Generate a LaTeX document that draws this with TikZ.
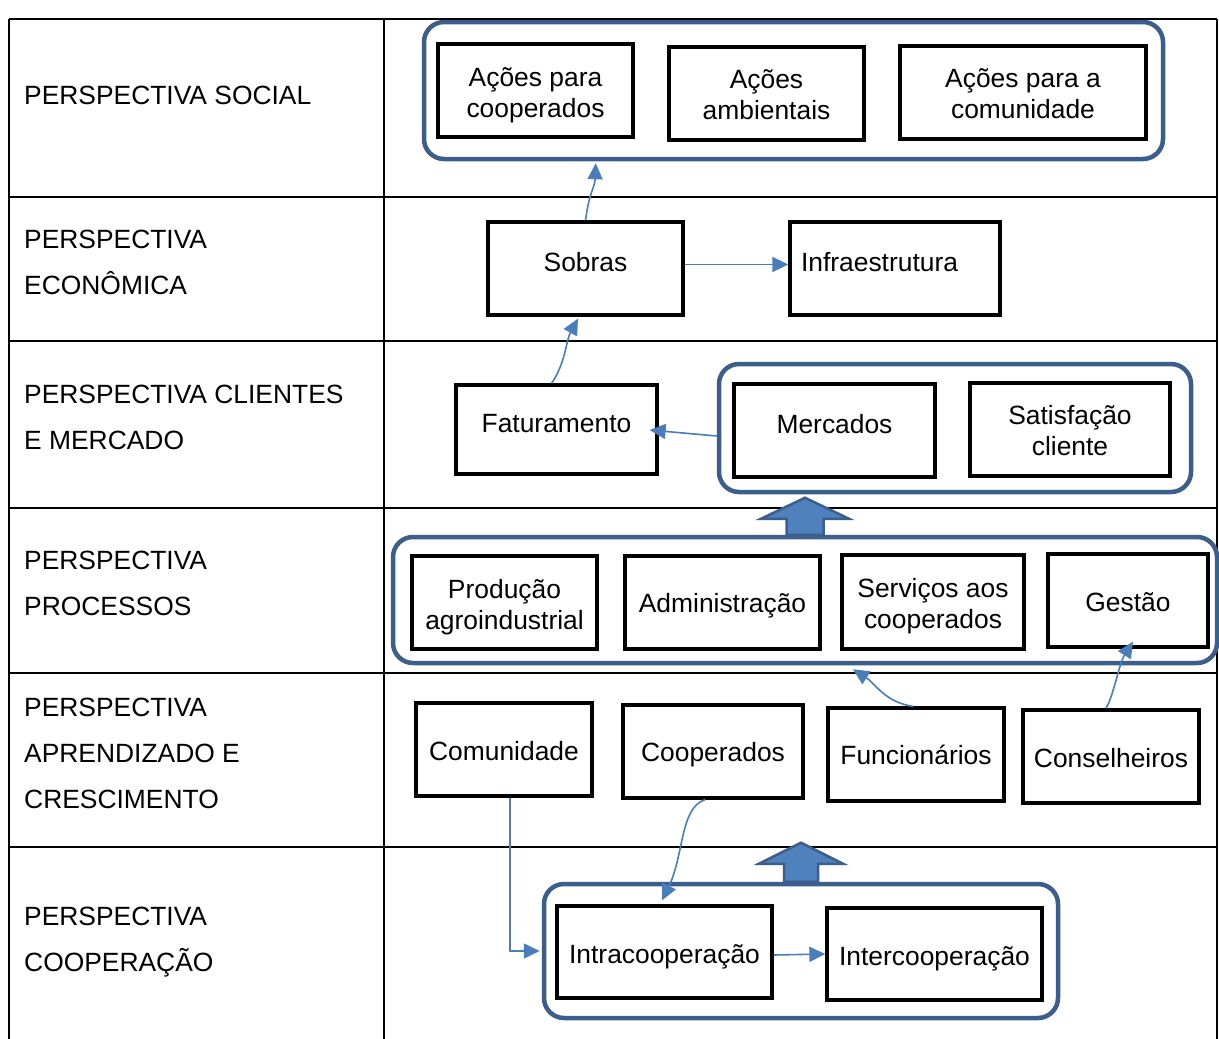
\documentclass[tikz,border=0pt]{standalone}
\usepackage{fontspec}
\setmainfont{Liberation Sans}
\usetikzlibrary{arrows.meta}
\definecolor{grpblue}{RGB}{59,94,140}
\definecolor{conblue}{RGB}{74,126,187}
\definecolor{fillblue}{RGB}{79,129,189}
\newcommand\mystrut[1]{\rule{0pt}{#1pt}}
\begin{document}
\begin{tikzpicture}[x=1pt,y=-1pt,
  every node/.style={font=\fontsize{26.4}{31}\selectfont},
  tbl/.style={line width=2.2pt, draw=black},
  bx/.style={draw=black, line width=3.3pt, inner sep=0pt, align=center, minimum height=93pt},
  grp/.style={draw=grpblue, line width=4.5pt, rounded corners=20pt, inner sep=0pt},
  con/.style={draw=conblue, line width=1.6pt, -{Triangle[length=16pt,width=15pt]}},
  blk/.style={draw=grpblue, fill=fillblue, line width=2.5pt, line join=miter},
  lbl/.style={anchor=base west, inner sep=0pt}
]
\useasboundingbox (0,0) rectangle (1219,1039);
\clip (0,0) rectangle (1219,1039);
\fill[white] (0,0) rectangle (1219,1039);

% table
\draw[tbl] (9,19) -- (1217,19);
\draw[tbl] (9,19) -- (9,1050);
\draw[tbl] (1217,19) -- (1217,1050);
\draw[tbl] (384,19) -- (384,1050);
\foreach \yy in {197,341,508,673,847} {\draw[tbl] (9,\yy) -- (1217,\yy);}

% row labels
\node[lbl] (ls) at (24,104.5) {PERSPECTIVA SOCIAL};
\node[lbl] (le1) at (24,248.5) {PERSPECTIVA};
\node[lbl] (le2) at (24,294.5) {ECONÔMICA};
\node[lbl] (lc1) at (24,403.5) {PERSPECTIVA CLIENTES};
\node[lbl] (lc2) at (24,449.5) {E MERCADO};
\node[lbl] (lp1) at (24,569.5) {PERSPECTIVA};
\node[lbl] (lp2) at (24,615.5) {PROCESSOS};
\node[lbl] (la1) at (24,716.5) {PERSPECTIVA};
\node[lbl] (la2) at (24,762.5) {APRENDIZADO E};
\node[lbl] (la3) at (24,808.5) {CRESCIMENTO};
\node[lbl] (lo1) at (24,925) {PERSPECTIVA};
\node[lbl] (lo2) at (24,971) {COOPERAÇÃO};

% groups
\node[grp, minimum width=739pt, minimum height=137pt] (socg) at (793.5,90.5) {};
\node[grp, minimum width=472pt, minimum height=128pt] (mercg) at (955,428) {};
\node[grp, minimum width=824pt, minimum height=126pt] (procg) at (805,600) {};
\node[grp, minimum width=514pt, minimum height=134pt] (coopg) at (801,951) {};

% social
\node[bx, minimum width=195pt] (c1) at (535.5,90.5) {\mystrut{28}Ações para\\cooperados};
\node[bx, minimum width=195pt] (c2) at (766.5,93.5) {\mystrut{22}Ações\\ambientais};
\node[bx, minimum width=246pt] (c3) at (1023,92.5) {\mystrut{22}Ações para a\\comunidade};

% economica
\node[bx, minimum width=195pt] (sobras) at (585.5,268.5) {\raisebox{13pt}{Sobras}};
\node[bx, minimum width=210pt, text width=188pt, align=left] (infra) at (895,268.5) {\raisebox{14pt}{Infraestrutura}};

% clientes
\node[bx, minimum width=201pt, minimum height=89pt] (fat) at (556.5,429.5) {\raisebox{13pt}{Faturamento}};
\node[bx, minimum width=201pt] (merc) at (834.5,430.5) {\raisebox{13pt}{Mercados}};
\node[bx, minimum width=200pt] (sat) at (1070,429.5) {\mystrut{22}Satisfação\\cliente};

% processos
\node[bx, minimum width=185pt] (prod) at (504.5,602.5) {\mystrut{28}Produção\\agroindustrial};
\node[bx, minimum width=195pt] (adm) at (722.5,602.5) {\mystrut{26}Administração};
\node[bx, minimum width=182pt, minimum height=94pt] (serv) at (933,602) {\mystrut{28}Serviços aos\\cooperados};
\node[bx, minimum width=160pt] (gest) at (1128,600.5) {\mystrut{22}Gestão};

% aprendizado
\node[bx, minimum width=176pt] (com) at (504,749.5) {\mystrut{22}Comunidade};
\node[bx, minimum width=180pt] (coopd) at (713,751.5) {\mystrut{26}Cooperados};
\node[bx, minimum width=176pt] (func) at (916,754.5) {Funcionários};
\node[bx, minimum width=176pt] (cons) at (1111,756.5) {\mystrut{22}Conselheiros};

% cooperacao
\node[bx, minimum width=215pt, minimum height=92pt] (intra) at (664.5,952) {\mystrut{28}Intracooperação};
\node[bx, minimum width=215pt, minimum height=92pt] (inter) at (934.5,954) {\mystrut{28}Intercooperação};

% connectors
\path (socg.south west) ++(174,2) coordinate (t1);
\draw[con] (sobras.north) .. controls +(4,-30) and +(-1,25) .. (t1);
\draw[con] ([xshift=-5pt]fat.north) .. controls +(14,-20) and +(-12,22) .. ([xshift=-7.5pt,yshift=-2pt]sobras.south);
\draw[con] ([yshift=4pt]sobras.east) -- ([yshift=4pt]infra.west);
\draw[con] ([yshift=-8pt]mercg.west) -- ([xshift=-9pt,yshift=-0.5pt]fat.east);
\draw[con] ([xshift=-3pt]func.north) .. controls +(-28,-4) and +(22,14) .. ([xshift=48pt,yshift=-4pt]procg.south);
\draw[con] ([xshift=-5pt]cons.north) .. controls +(8,-14) and +(-14,22) .. ([xshift=5pt,yshift=7pt]gest.south);
\draw[con] ([xshift=6pt]com.south) |- ([xshift=-2pt]coopg.west);
\draw[con] ([xshift=-8pt]coopd.south) .. controls +(-25,8) and +(22,-45) .. ([xshift=-2.5pt,yshift=4pt]intra.north);
\draw[con] ([yshift=-3pt]intra.east) -- (inter.west);

% block arrows
\draw[blk] (procg.north) ++(-18.5,0) -- ++(0,-16) -- ++(-25.5,0) -- ++(44,-21) -- ++(44,21) -- ++(-25.5,0) -- ++(0,16) -- cycle;
\draw[blk] (coopg.north) ++(-17,0) -- ++(0,-18) -- ++(-25,0) -- ++(42,-21) -- ++(42,21) -- ++(-25,0) -- ++(0,18) -- cycle;
\end{tikzpicture}
\end{document}
